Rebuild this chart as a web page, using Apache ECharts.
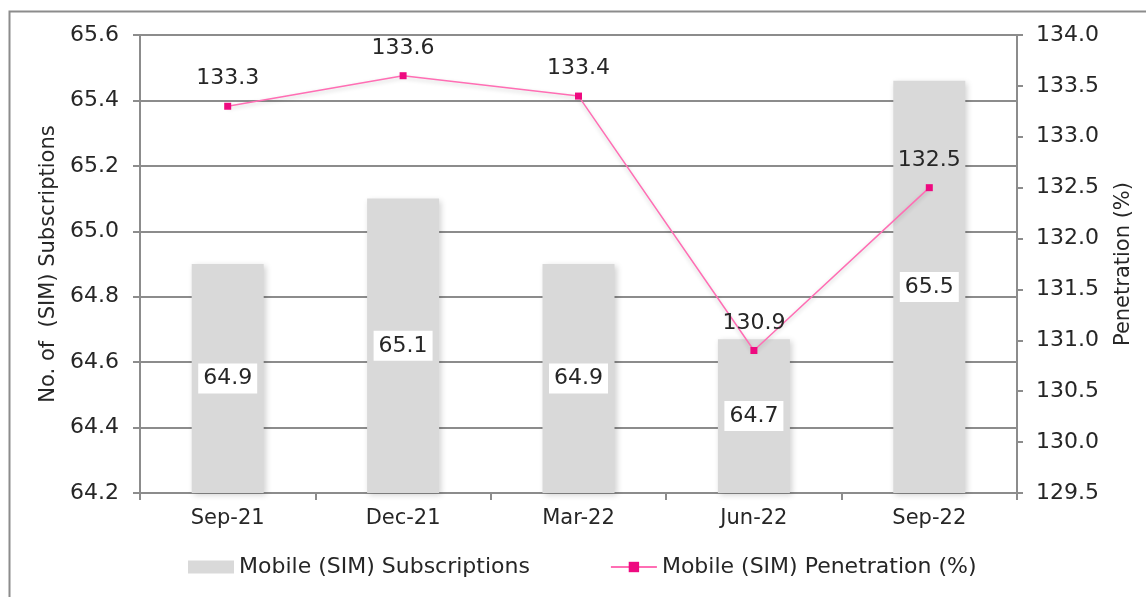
<!DOCTYPE html>
<html>
<head>
<meta charset="utf-8">
<script src="https://cdn.jsdelivr.net/npm/echarts@6/dist/echarts.min.js"></script>
<style>html,body{margin:0;padding:0;background:#fff;}#c{width:1146px;height:597px;}</style>
</head>
<body>
<div id="c"></div>
<script>
const categories = ['Sep-21', 'Dec-21', 'Mar-22', 'Jun-22', 'Sep-22'];
const subscriptions = [64.9, 65.1, 64.9, 64.67, 65.46];
const penetration = [133.3, 133.6, 133.4, 130.9, 132.5];
const leftTicks = {min: 64.2, max: 65.6, interval: 0.2};
const rightTicks = {min: 129.5, max: 134.0, interval: 0.5};

const FONT = '"DejaVu Sans", sans-serif';
const TXT = '#262626';
const AX = '#8c8c8c';

const chart = echarts.init(document.getElementById('c'), null, {renderer: 'canvas'});
chart.setOption({
  animation: false,
  textStyle: {fontFamily: FONT, color: TXT},
  graphic: [{
    type: 'rect', left: 7, top: 9, silent: true,
    shape: {x: 0, y: 0, width: 1300, height: 800},
    style: {fill: 'none', stroke: '#8c8c8c', lineWidth: 2}
  }],
  grid: {left: 140, right: 129, top: 35, bottom: 104},
  legend: {
    bottom: 14, left: 183, itemGap: 80, itemWidth: 46, itemHeight: 13,
    textStyle: {fontFamily: FONT, fontSize: 22, color: TXT},
    data: [
      {name: 'Mobile (SIM) Subscriptions', icon: 'rect'},
      {name: 'Mobile (SIM) Penetration (%)'}
    ]
  },
  xAxis: {
    type: 'category', data: categories,
    axisLine: {lineStyle: {color: AX, width: 2}},
    axisTick: {show: true, length: 7, lineStyle: {color: AX, width: 2}},
    axisLabel: {fontSize: 21, color: TXT, margin: 15, fontFamily: FONT}
  },
  yAxis: [{
    type: 'value', min: leftTicks.min, max: leftTicks.max, interval: leftTicks.interval,
    name: 'No. of  (SIM) Subscriptions', nameLocation: 'middle', nameRotate: 90, nameGap: 78,
    nameTextStyle: {fontSize: 21, color: TXT, fontFamily: FONT},
    axisLine: {show: true, lineStyle: {color: AX, width: 2}},
    axisTick: {show: true, length: 7, lineStyle: {color: AX, width: 2}},
    axisLabel: {fontSize: 22, color: TXT, margin: 21, fontFamily: FONT, formatter: v => v.toFixed(1)},
    splitLine: {show: true, lineStyle: {color: AX, width: 2}}
  }, {
    type: 'value', position: 'right', min: rightTicks.min, max: rightTicks.max, interval: rightTicks.interval,
    name: 'Penetration (%)', nameLocation: 'middle', nameRotate: 90, nameGap: 96,
    nameTextStyle: {fontSize: 21, color: TXT, fontFamily: FONT},
    axisLine: {show: true, lineStyle: {color: AX, width: 2}},
    axisTick: {show: true, length: 6, lineStyle: {color: AX, width: 2}},
    axisLabel: {fontSize: 22, color: TXT, margin: 19, fontFamily: FONT, formatter: v => v.toFixed(1)},
    splitLine: {show: false}
  }],
  series: [{
    name: 'Mobile (SIM) Subscriptions', type: 'bar', yAxisIndex: 0,
    data: subscriptions, barWidth: 72,
    itemStyle: {color: '#d9d9d9', shadowColor: 'rgba(0,0,0,0.18)', shadowBlur: 6, shadowOffsetX: 2, shadowOffsetY: 2},
    label: {
      show: true, position: 'inside', fontSize: 22, color: TXT, fontFamily: FONT,
      backgroundColor: '#fff', padding: [5, 5, 3, 5],
      formatter: p => p.value.toFixed(1)
    }
  }, {
    name: 'Mobile (SIM) Penetration (%)', type: 'line', yAxisIndex: 1,
    data: penetration, symbol: 'rect', symbolSize: 7,
    lineStyle: {color: '#ff6eb4', width: 1.5, shadowColor: 'rgba(0,0,0,0.2)', shadowBlur: 4, shadowOffsetY: 2},
    itemStyle: {color: '#ee0a80'},
    label: {show: true, position: 'top', distance: 13, fontSize: 22, color: TXT, fontFamily: FONT,
      formatter: p => p.value.toFixed(1)}
  }]
});
</script>
</body>
</html>
